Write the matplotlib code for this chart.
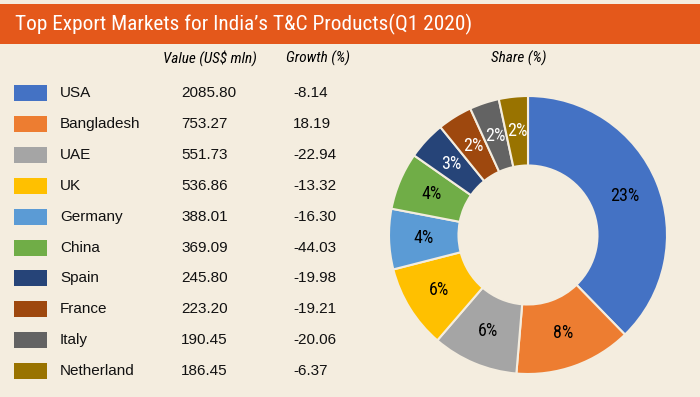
import numpy as np
import matplotlib
matplotlib.use("Agg")
import matplotlib.pyplot as plt

# table / donut data
countries = ["USA", "Bangladesh", "UAE", "UK", "Germany", "China",
             "Spain", "France", "Italy", "Netherland"]
values = [2085.80, 753.27, 551.73, 536.86, 388.01, 369.09,
          245.80, 223.20, 190.45, 186.45]
growth = [-8.14, 18.19, -22.94, -13.32, -16.30, -44.03,
          -19.98, -19.21, -20.06, -6.37]
share_labels = ["23%", "8%", "6%", "6%", "4%", "4%", "3%", "2%", "2%", "2%"]
colors = ["#4472c4", "#ed7d31", "#a5a5a5", "#ffc000", "#5b9bd5", "#70ad47",
          "#264478", "#9e480e", "#636363", "#997300"]
label_colors = ["black"] * 6 + ["white"] * 4

BG = "#f4eddf"
BAR = "#e4581b"

narrow = ["Roboto Condensed", "DejaVu Sans"]
plain = ["Liberation Sans", "DejaVu Sans"]

fig = plt.figure(figsize=(7, 3.97), dpi=100, facecolor=BG)

# full-figure axes in pixel coordinates for the table part
ax = fig.add_axes([0, 0, 1, 1])
ax.set_xlim(0, 700)
ax.set_ylim(397, 0)
ax.axis("off")

ax.add_patch(plt.Rectangle((0, 4), 700, 40, color=BAR, lw=0))
ax.text(15, 24.5, "Top Export Markets for India\u2019s T&C Products(Q1 2020)",
        color="white", fontsize=15.3, family=narrow, va="center", ha="left")

hdr = dict(fontsize=11, style="italic", family=narrow, va="center", ha="center")
ax.text(210, 58, "Value (US$ mln)", **hdr)
ax.text(318, 58, "Growth (%)", **hdr)
ax.text(519, 58, "Share (%)", **hdr)

row_y = 93
step = 30.9
for i, name in enumerate(countries):
    y = row_y + i * step
    ax.add_patch(plt.Rectangle((14, y - 8), 33, 16, color=colors[i], lw=0))
    ax.text(60, y, name, fontsize=11, family=plain, color="#111111",
            va="center", ha="left")
    ax.text(181, y, f"{values[i]:.2f}", fontsize=11, family=plain,
            color="#111111", va="center", ha="left")
    ax.text(293, y, f"{growth[i]:.2f}", fontsize=11, family=plain,
            color="#111111", va="center", ha="left")

# donut
cx, cy, r = 528, 235, 139
pax = fig.add_axes([(cx - r) / 700, (397 - cy - r) / 397, 2 * r / 700, 2 * r / 397])
wedges, _ = pax.pie(values, colors=colors, startangle=90, counterclock=False,
                    radius=1, wedgeprops=dict(width=0.5, edgecolor=BG, linewidth=1.5))
pax.set_aspect("equal")
pax.set_xlim(-1, 1)
pax.set_ylim(-1, 1)
pax.axis("off")

for w, lab, lc in zip(wedges, share_labels, label_colors):
    ang = np.deg2rad((w.theta1 + w.theta2) / 2)
    pax.text(0.75 * np.cos(ang), 0.75 * np.sin(ang), lab, color=lc,
             fontsize=13, family=narrow, ha="center", va="center")

fig.savefig("out.png", dpi=100, facecolor=BG)
